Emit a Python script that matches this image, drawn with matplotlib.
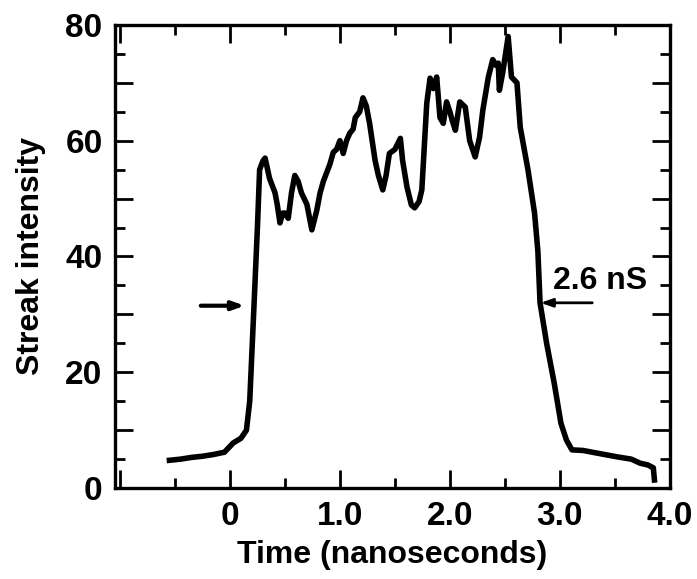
import numpy as np
import matplotlib.pyplot as plt
from matplotlib.ticker import MultipleLocator, FuncFormatter

# Trace (temps en ns, intensité)
time_ns = [-0.55, -0.45, -0.35, -0.25, -0.15, -0.05, 0.03, 0.10, 0.15, 0.18,
           0.22, 0.25, 0.27, 0.30, 0.32, 0.36, 0.41, 0.43, 0.455, 0.48,
           0.50, 0.53, 0.56, 0.59, 0.62, 0.65, 0.70, 0.745, 0.79, 0.82,
           0.85, 0.88, 0.91, 0.94, 0.97, 1.00, 1.03, 1.06, 1.09, 1.12,
           1.14, 1.18, 1.21, 1.24, 1.27, 1.32, 1.35, 1.39, 1.42, 1.45,
           1.50, 1.55, 1.57, 1.61, 1.65, 1.68, 1.72, 1.745, 1.79, 1.82,
           1.85, 1.88, 1.91, 1.94, 1.97, 2.00, 2.02, 2.05, 2.09, 2.14,
           2.18, 2.23, 2.27, 2.30, 2.35, 2.39, 2.42, 2.44, 2.45, 2.48,
           2.53, 2.56, 2.61, 2.64, 2.71, 2.77, 2.80, 2.82, 2.88, 2.95,
           3.01, 3.06, 3.11, 3.21, 3.35, 3.52, 3.65, 3.73, 3.80, 3.85, 3.86]
intensity = [4.8, 5.0, 5.3, 5.5, 5.8, 6.2, 7.8, 8.6, 10, 15,
             32, 45, 55, 56.5, 57, 53.5, 51, 49, 45.8, 47.5,
             47.5, 46.6, 51, 54, 53, 51, 49, 44.6, 48, 51,
             53, 54.5, 56, 58, 58.5, 60, 57.8, 60, 61.3, 62,
             64, 65, 67.4, 66, 63, 56.6, 54, 51.5, 54, 57.8,
             58.5, 60.4, 56.6, 52, 48.9, 48.4, 49.5, 51.5, 66.5, 70.8,
             69, 71, 64, 63, 66.7, 65, 63.6, 61.8, 66.7, 65.8,
             60, 57.2, 60.6, 65.3, 71, 74, 73, 73.4, 68.7, 71.7,
             78, 71, 70, 62.3, 55, 47.5, 41, 32, 25, 18,
             11.2, 8.3, 6.6, 6.5, 6, 5.4, 5, 4.3, 4, 3.5, 1.4]

# Flèches de largeur à mi-hauteur
fwhm_level = 31.5
left_arrow = (-0.29, 0.16)
right_arrow = (3.32, 2.80)
fwhm_label = "2.6 nS"

plt.rcParams['font.family'] = ['Liberation Sans', 'DejaVu Sans']
plt.rcParams['font.weight'] = 'bold'

fig = plt.figure(figsize=(6.97, 5.79), dpi=100)
ax = fig.add_axes([0.165, 0.157, 0.796, 0.8])

ax.plot(time_ns, intensity, color='black', lw=4, solid_joinstyle='round')

ax.annotate('', xy=(left_arrow[1], fwhm_level), xytext=(left_arrow[0], fwhm_level),
            arrowprops=dict(arrowstyle='-|>,head_length=0.7,head_width=0.25',
                            color='black', lw=3))
ax.annotate('', xy=(right_arrow[1], fwhm_level + 0.5), xytext=(right_arrow[0], fwhm_level + 0.5),
            arrowprops=dict(arrowstyle='-|>,head_length=0.7,head_width=0.25',
                            color='black', lw=2))
ax.text(2.94, 35.8, fwhm_label, fontsize=23, fontweight='bold', va='center', ha='left')

ax.set_xlim(-1.045, 4.0)
ax.set_ylim(0, 80)

ax.xaxis.set_major_locator(MultipleLocator(1.0))
ax.xaxis.set_minor_locator(MultipleLocator(0.5))
ax.yaxis.set_major_locator(MultipleLocator(10))
ax.yaxis.set_minor_locator(MultipleLocator(5))
ax.xaxis.set_major_formatter(FuncFormatter(lambda x, p: '0' if abs(x) < 1e-9 else ('%.1f' % x if x > 0 else '')))
ax.yaxis.set_major_formatter(FuncFormatter(lambda y, p: '%d' % y if int(round(y)) % 20 == 0 else ''))

ax.tick_params(which='both', direction='in', top=True, right=True, width=2, labelsize=24, pad=9)
ax.tick_params(which='major', length=13)
ax.tick_params(which='minor', length=7)
for lab in ax.get_xticklabels() + ax.get_yticklabels():
    lab.set_fontweight('bold')

for s in ax.spines.values():
    s.set_linewidth(2.4)

ax.set_xlabel('Time (nanoseconds)', fontsize=23, fontweight='bold', labelpad=6)
ax.set_ylabel('Streak intensity', fontsize=23, fontweight='bold', labelpad=14)

plt.savefig('out.png', dpi=100)
